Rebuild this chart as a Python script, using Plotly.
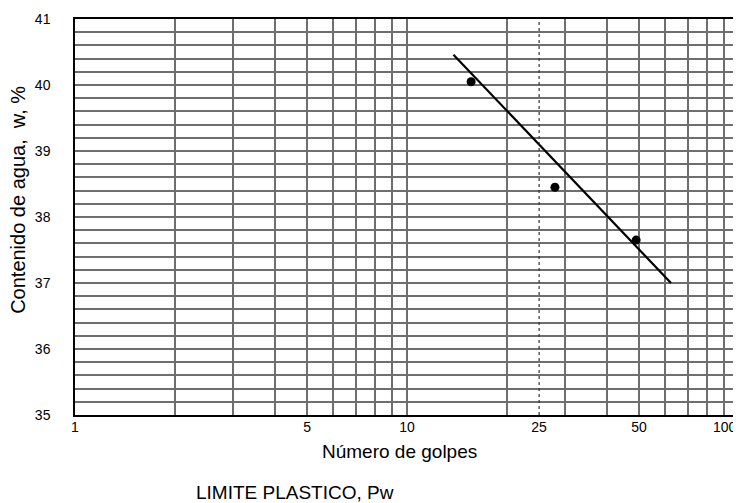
import numpy as np
import plotly.graph_objects as go

# ---- data ----
blows = [15.6, 27.9, 49]            # Número de golpes
water = [40.05, 38.45, 37.65]       # Contenido de agua, %
fit_blows = [13.8, 62.4]            # trend line ends
fit_water = [40.46, 37.0]
ref_blows = 25                      # reference line (25 golpes)

x_grid = [1, 2, 3, 4, 5, 6, 7, 8, 9, 10, 20, 30, 40, 50, 60, 70, 80, 90, 100]
x_label_vals = [1, 5, 10, 25, 50, 100]
x_label_text = ["1", "5", "10", "25", "50", "100"]
y_grid = [round(v, 1) for v in np.arange(35, 41.001, 0.2)]
y_label_text = [str(int(round(v))) if abs(v - round(v)) < 1e-6 else "" for v in y_grid]

FONT = "Liberation Sans, Arial, sans-serif"
GRID = "#6e6e6e"

fig = go.Figure()
fig.add_trace(go.Scatter(x=fit_blows, y=fit_water, mode="lines",
                         line=dict(color="black", width=2.2), showlegend=False))
fig.add_trace(go.Scatter(x=blows, y=water, mode="markers",
                         marker=dict(color="black", size=9), showlegend=False))
# invisible copy on the labelled axis so that it is rendered
fig.add_trace(go.Scatter(x=blows, y=water, mode="markers", xaxis="x2",
                         marker=dict(opacity=0), hoverinfo="skip", showlegend=False))

fig.add_shape(type="line", xref="x", yref="paper", x0=ref_blows, x1=ref_blows, y0=0, y1=1,
              line=dict(color="#333333", width=1.2, dash="dot"), layer="above")

# last tick label sits at the right edge: right-aligned so that it stays inside
fig.add_annotation(text=x_label_text[-1], xref="paper", yref="paper",
                   x=1.0, y=-0.031, xanchor="right", yanchor="middle",
                   showarrow=False, font=dict(family=FONT, size=14, color="black"))
fig.add_annotation(text="LIMITE PLASTICO, Pw", xref="paper", yref="paper",
                   x=0.3306, y=-0.195, xanchor="center", yanchor="middle",
                   showarrow=False, font=dict(family=FONT, size=19, color="black"))
fig.add_annotation(text="Número de golpes", xref="paper", yref="paper",
                   x=0.489, y=-0.093, xanchor="center", yanchor="middle",
                   showarrow=False, font=dict(family=FONT, size=19, color="black"))
fig.add_annotation(text="Contenido de agua,&nbsp; w, %", xref="paper", yref="paper",
                   x=-0.086, y=0.543, xanchor="center", yanchor="middle", textangle=-90,
                   showarrow=False, font=dict(family=FONT, size=20, color="black"))

fig.update_layout(
    width=733, height=495,
    margin=dict(l=67, r=2, t=11, b=88),
    paper_bgcolor="white", plot_bgcolor="white",
    font=dict(family=FONT, color="black"),
    xaxis=dict(type="log", range=[0, 2], tickmode="array", tickvals=x_grid,
               showticklabels=False, ticks="", showgrid=True, gridcolor=GRID, gridwidth=1.5,
               showline=True, linecolor="black", linewidth=1.5, mirror=True,
               zeroline=False, automargin=False),
    xaxis2=dict(type="log", range=[0, 2], overlaying="x", anchor="y", side="bottom",
                tickmode="array", tickvals=x_label_vals[:-1], ticktext=x_label_text[:-1],
                showgrid=False, ticks="", tickfont=dict(size=14, family=FONT, color="black"),
                ticklabelstandoff=2,
                automargin=False, zeroline=False),
    yaxis=dict(range=[35, 41], tickmode="array", tickvals=y_grid, ticktext=y_label_text,
               ticks="", showgrid=True, gridcolor=GRID, gridwidth=1.5,
               showline=True, linecolor="black", linewidth=1.5, mirror=True,
               tickfont=dict(size=14, family=FONT, color="black"), ticklabelstandoff=20,
               zeroline=False, automargin=False),
)

fig.write_html("out.html")
